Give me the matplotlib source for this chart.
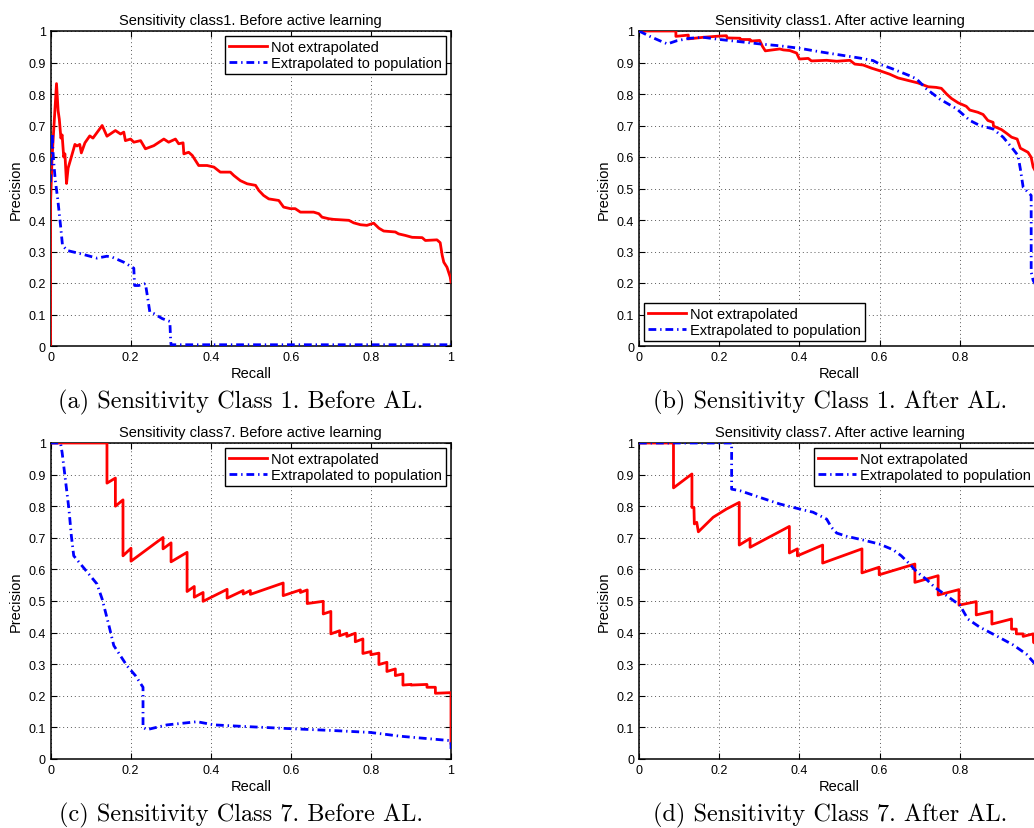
import numpy as np
import matplotlib
matplotlib.use("Agg")
import matplotlib.pyplot as plt

# ── Data ──────────────────────────────────────────────────────────────────────
# (a) class 1, before active learning
a_rec_red = [0.0, 0.0, 0.004, 0.015, 0.019, 0.022, 0.026, 0.029, 0.033, 0.036, 0.04,
             0.044, 0.052, 0.061, 0.066, 0.073, 0.077, 0.086, 0.098, 0.106, 0.129,
             0.141, 0.162, 0.175, 0.183, 0.187, 0.2, 0.208, 0.225, 0.237, 0.258,
             0.283, 0.295, 0.312, 0.32, 0.331, 0.333, 0.345, 0.354, 0.37, 0.391,
             0.408, 0.424, 0.449, 0.458, 0.474, 0.491, 0.512, 0.52, 0.532, 0.545,
             0.57, 0.582, 0.599, 0.611, 0.624, 0.657, 0.67, 0.678, 0.695, 0.707,
             0.745, 0.757, 0.774, 0.79, 0.807, 0.82, 0.832, 0.861, 0.869, 0.886,
             0.903, 0.928, 0.936, 0.965, 0.973, 0.978, 0.982, 0.99, 0.998, 1.0]
a_pre_red = [0.0, 0.45, 0.6, 0.833, 0.747, 0.72, 0.66, 0.67, 0.6, 0.61, 0.516,
             0.565, 0.6, 0.64, 0.635, 0.64, 0.613, 0.645, 0.667, 0.66, 0.70,
             0.666, 0.684, 0.673, 0.679, 0.652, 0.657, 0.647, 0.652, 0.626, 0.636,
             0.657, 0.647, 0.657, 0.642, 0.645, 0.61, 0.615, 0.605, 0.573, 0.573,
             0.568, 0.552, 0.552, 0.541, 0.525, 0.515, 0.51, 0.494, 0.478, 0.467,
             0.462, 0.441, 0.436, 0.436, 0.425, 0.425, 0.42, 0.409, 0.404, 0.402,
             0.399, 0.391, 0.385, 0.383, 0.39, 0.374, 0.365, 0.362, 0.356, 0.351,
             0.345, 0.344, 0.335, 0.337, 0.328, 0.288, 0.266, 0.25, 0.219, 0.203]
a_rec_blue = [0.0, 0.004, 0.007, 0.012, 0.018, 0.025, 0.03, 0.042, 0.075, 0.116,
              0.141, 0.154, 0.183, 0.208, 0.21, 0.22, 0.237, 0.241, 0.248, 0.258,
              0.279, 0.298, 0.3, 0.301, 1.0, 1.0]
a_pre_blue = [0.52, 0.675, 0.6, 0.525, 0.467, 0.383, 0.319, 0.303, 0.293, 0.279,
              0.285, 0.282, 0.266, 0.247, 0.192, 0.192, 0.198, 0.166, 0.108, 0.103,
              0.087, 0.078, 0.018, 0.004, 0.004, 0.007]

# (b) class 1, after active learning
b_rec_red = [0.0, 0.092, 0.092, 0.123, 0.123, 0.16, 0.202, 0.218, 0.22, 0.252, 0.253,
             0.277, 0.278, 0.301, 0.308, 0.315, 0.351, 0.36, 0.376, 0.393, 0.4,
             0.422, 0.43, 0.468, 0.493, 0.526, 0.538, 0.559, 0.58, 0.6, 0.625,
             0.646, 0.671, 0.696, 0.721, 0.741, 0.754, 0.767, 0.779, 0.796, 0.816,
             0.825, 0.845, 0.858, 0.87, 0.883, 0.884, 0.904, 0.918, 0.929, 0.943,
             0.951, 0.97, 0.978, 0.983, 0.995]
b_pre_red = [1.0, 1.0, 0.983, 0.987, 0.975, 0.98, 0.984, 0.985, 0.978, 0.977, 0.973,
             0.973, 0.968, 0.97, 0.951, 0.937, 0.943, 0.94, 0.938, 0.93, 0.911,
             0.913, 0.905, 0.907, 0.904, 0.907, 0.895, 0.892, 0.882, 0.874, 0.863,
             0.851, 0.843, 0.835, 0.823, 0.821, 0.818, 0.80, 0.786, 0.772, 0.761,
             0.749, 0.742, 0.735, 0.716, 0.71, 0.698, 0.687, 0.674, 0.663, 0.657,
             0.628, 0.615, 0.599, 0.568, 0.54]
b_rec_blue = [0.0, 0.027, 0.052, 0.071, 0.094, 0.127, 0.16, 0.202, 0.252, 0.301,
              0.351, 0.401, 0.451, 0.501, 0.551, 0.584, 0.6, 0.634, 0.675, 0.692,
              0.717, 0.75, 0.792, 0.825, 0.85, 0.883, 0.908, 0.929, 0.945, 0.951,
              0.958, 0.978, 0.978, 0.983, 0.995]
b_pre_blue = [1.0, 0.983, 0.969, 0.959, 0.969, 0.977, 0.98, 0.973, 0.966, 0.959,
              0.953, 0.945, 0.934, 0.924, 0.914, 0.906, 0.895, 0.879, 0.858, 0.848,
              0.816, 0.784, 0.753, 0.716, 0.70, 0.689, 0.663, 0.631, 0.605, 0.562,
              0.504, 0.478, 0.235, 0.208, 0.18]

# (c) class 7, before active learning
c_rec_red = [0.0, 0.141, 0.141, 0.162, 0.162, 0.181, 0.181, 0.201, 0.201, 0.281,
             0.281, 0.301, 0.301, 0.341, 0.341, 0.359, 0.359, 0.381, 0.381, 0.441,
             0.441, 0.481, 0.481, 0.499, 0.499, 0.581, 0.581, 0.624, 0.624, 0.641,
             0.641, 0.681, 0.681, 0.70, 0.70, 0.722, 0.722, 0.74, 0.74, 0.761,
             0.761, 0.78, 0.78, 0.80, 0.80, 0.82, 0.82, 0.84, 0.84, 0.861, 0.861,
             0.88, 0.88, 0.90, 0.90, 0.94, 0.94, 0.961, 0.961, 1.0, 1.0]
c_pre_red = [1.0, 1.0, 0.873, 0.889, 0.80, 0.82, 0.643, 0.667, 0.626, 0.701,
             0.665, 0.684, 0.624, 0.654, 0.53, 0.546, 0.512, 0.527, 0.499, 0.537,
             0.509, 0.533, 0.522, 0.533, 0.521, 0.557, 0.517, 0.535, 0.527, 0.535,
             0.492, 0.499, 0.459, 0.467, 0.396, 0.406, 0.39, 0.398, 0.388, 0.398,
             0.371, 0.38, 0.334, 0.34, 0.33, 0.335, 0.299, 0.306, 0.277, 0.285,
             0.264, 0.269, 0.234, 0.236, 0.234, 0.236, 0.227, 0.227, 0.208, 0.21,
             0.05]
c_rec_blue = [0.0, 0.025, 0.029, 0.037, 0.046, 0.052, 0.058, 0.092, 0.116, 0.129,
              0.146, 0.158, 0.191, 0.212, 0.231, 0.231, 0.241, 0.291, 0.366, 0.408,
              0.483, 0.582, 0.707, 0.799, 0.874, 1.0, 1.0]
c_pre_blue = [1.0, 1.0, 0.97, 0.886, 0.791, 0.707, 0.643, 0.591, 0.554, 0.506,
              0.422, 0.359, 0.295, 0.264, 0.227, 0.10, 0.093, 0.108, 0.118, 0.108,
              0.103, 0.097, 0.09, 0.084, 0.072, 0.058, 0.032]

# (d) class 7, after active learning
d_rec_red = [0.0, 0.086, 0.086, 0.132, 0.132, 0.137, 0.138, 0.144, 0.148, 0.185,
             0.218, 0.25, 0.25, 0.277, 0.277, 0.375, 0.375, 0.395, 0.395, 0.458,
             0.458, 0.556, 0.556, 0.599, 0.599, 0.688, 0.688, 0.746, 0.746, 0.798,
             0.798, 0.841, 0.841, 0.88, 0.88, 0.929, 0.929, 0.941, 0.941, 0.958,
             0.958, 0.983, 0.984, 0.995]
d_pre_red = [1.0, 1.0, 0.858, 0.902, 0.796, 0.796, 0.744, 0.749, 0.719, 0.765,
             0.791, 0.812, 0.677, 0.698, 0.67, 0.736, 0.652, 0.665, 0.643, 0.677,
             0.62, 0.665, 0.589, 0.607, 0.583, 0.617, 0.559, 0.58, 0.519, 0.536,
             0.487, 0.498, 0.456, 0.467, 0.427, 0.443, 0.411, 0.411, 0.396, 0.396,
             0.388, 0.396, 0.369, 0.36]
d_rec_blue = [0.0, 0.231, 0.231, 0.252, 0.301, 0.351, 0.401, 0.434, 0.468, 0.48,
              0.493, 0.517, 0.559, 0.60, 0.634, 0.654, 0.675, 0.692, 0.717, 0.738,
              0.767, 0.80, 0.82, 0.85, 0.891, 0.933, 0.966, 0.984, 0.995]
d_pre_blue = [1.0, 1.0, 0.854, 0.849, 0.828, 0.807, 0.791, 0.781, 0.759, 0.733,
              0.715, 0.705, 0.693, 0.68, 0.662, 0.643, 0.617, 0.593, 0.568, 0.543,
              0.517, 0.487, 0.443, 0.417, 0.39, 0.361, 0.332, 0.306, 0.29]

TITLES = ["Sensitivity class1. Before active learning",
          "Sensitivity class1. After active learning",
          "Sensitivity class7. Before active learning",
          "Sensitivity class7. After active learning"]
CAPTIONS = ["(a) Sensitivity Class 1. Before AL.",
            "(b) Sensitivity Class 1. After AL.",
            "(c) Sensitivity Class 7. Before AL.",
            "(d) Sensitivity Class 7. After AL."]
LEGEND_LOC = ["upper right", "lower left", "upper right", "upper right"]
LABELS = ["Not extrapolated", "Extrapolated to population"]
XTICK_LABELS = ['0', '0.2', '0.4', '0.6', '0.8', '1']

# ── Layout (pixel boxes of each axes: left, top, right, bottom) ──────────────
W, H = 1034, 829
BOXES = [(50.5, 32, 451, 347), (639, 32, 1040, 347),
         (50.5, 444, 451, 760), (639, 444, 1040, 760)]
CAPTION_XY = [(241, 402), (830, 402), (241, 815), (830, 815)]

plt.rcParams['font.family'] = ['Liberation Sans', 'DejaVu Sans']
fig = plt.figure(figsize=(W / 100, H / 100), dpi=100)

series = [(a_rec_red, a_pre_red, a_rec_blue, a_pre_blue),
          (b_rec_red, b_pre_red, b_rec_blue, b_pre_blue),
          (c_rec_red, c_pre_red, c_rec_blue, c_pre_blue),
          (d_rec_red, d_pre_red, d_rec_blue, d_pre_blue)]

for k, (l, t, r, b) in enumerate(BOXES):
    ax = fig.add_axes([l / W, 1 - b / H, (r - l) / W, (b - t) / H])
    xr, yr, xb, yb = series[k]
    ax.plot(xr, yr, color='#ff0000', lw=2.0, label=LABELS[0], zorder=3)
    ax.plot(xb, yb, color='#0000ff', lw=2.0, ls=(0, (2.8, 1.4, 0.5, 1.4)),
            label=LABELS[1], zorder=3)

    ax.set_xlim(0, 1)
    ax.set_ylim(0, 1)
    ax.set_xticks(np.arange(0, 1.01, 0.2))
    ax.set_yticks(np.arange(0, 1.01, 0.1))
    # right-hand panels run past the page edge, so their "1" is not shown
    xt = XTICK_LABELS if r < W else XTICK_LABELS[:-1] + ['']
    ax.set_xticklabels(xt)
    ax.set_yticklabels(['0'] + [f'{v:.1f}' for v in np.arange(0.1, 0.95, 0.1)] + ['1'])
    ax.tick_params(direction='in', top=True, right=True, length=4, width=0.8,
                   labelsize=9, pad=3.5, colors='black')
    ax.grid(True, color='0.35', ls=(0, (1, 3)), lw=0.7)
    for sp in ax.spines.values():
        sp.set_linewidth(1.1)
    ax.set_xlabel("Recall", fontsize=10.5, labelpad=2)
    ax.set_ylabel("Precision", fontsize=10.5, labelpad=4)
    ax.set_title(TITLES[k], fontsize=10.5, pad=5)

    leg = ax.legend(loc=LEGEND_LOC[k], fontsize=10.5, handlelength=2.6,
                    handletextpad=0.3, labelspacing=0.15, borderpad=0.25,
                    borderaxespad=0.35, fancybox=False, framealpha=1)
    leg.get_frame().set_edgecolor('black')
    leg.get_frame().set_linewidth(1.0)

    cx, cy = CAPTION_XY[k]
    fig.text(cx / W, 1 - cy / H, CAPTIONS[k],
             family='cmr10', fontsize=17.5, ha='center', va='center')

plt.savefig("out.png", dpi=100)
